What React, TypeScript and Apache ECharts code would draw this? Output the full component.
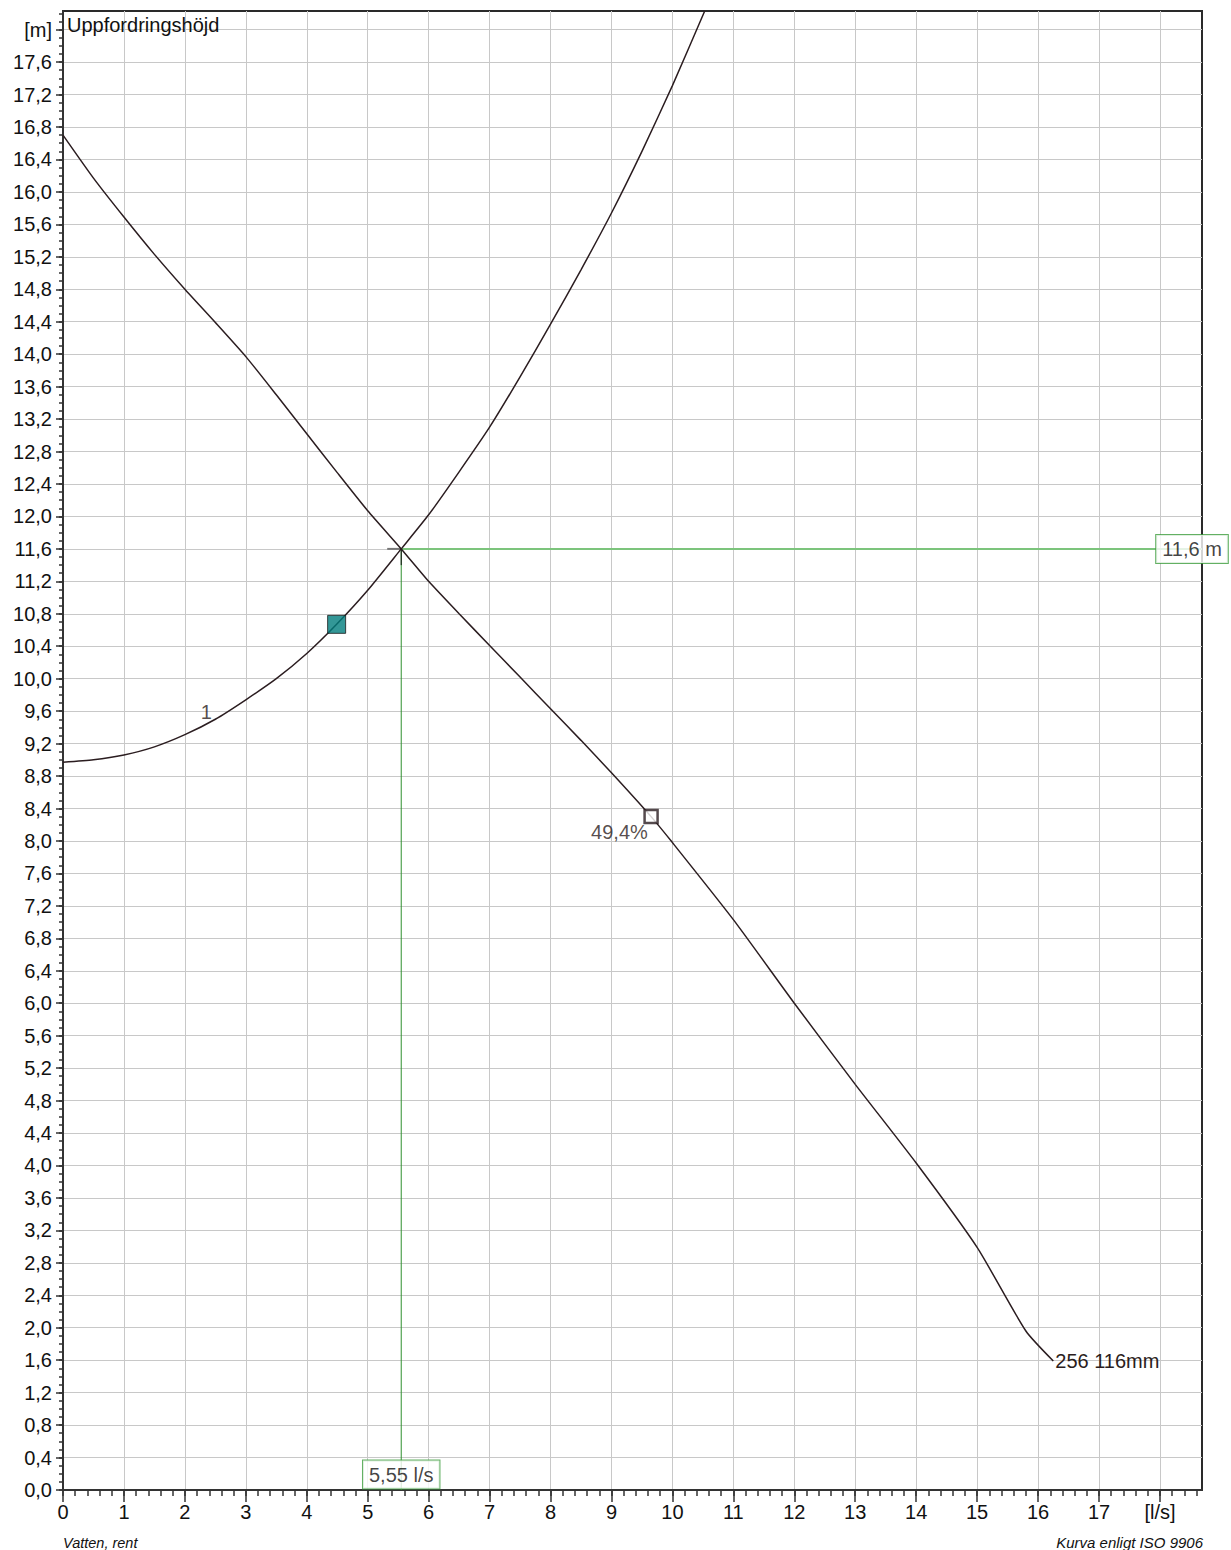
import React, { useEffect, useRef } from 'react';
import * as echarts from 'echarts';

// Pump curve "256 116mm" (flow l/s, head m)
const pumpQ = [0, 0.5, 1, 1.5, 2, 2.5, 3, 3.5, 4, 4.5, 5, 5.55, 6, 6.5, 7, 7.5, 8, 8.5, 9, 9.65, 10, 11, 12, 13, 14, 15, 15.8, 16.25];
const pumpH = [16.7, 16.17, 15.69, 15.23, 14.8, 14.39, 13.97, 13.5, 13.02, 12.54, 12.07, 11.6, 11.2, 10.8, 10.41, 10.02, 9.63, 9.24, 8.84, 8.3, 7.98, 7.03, 6.0, 5.0, 4.03, 2.99, 1.96, 1.59];
const pumpLabel = '256 116mm';

// System curve "1"
const sysQ = [0, 0.5, 1, 1.5, 2, 2.5, 3, 3.5, 4, 4.49, 5, 5.55, 6, 6.5, 7, 7.5, 8, 8.5, 9, 9.5, 10, 10.53];
const sysH = [8.97, 9.0, 9.06, 9.16, 9.31, 9.5, 9.74, 10.0, 10.31, 10.67, 11.09, 11.6, 12.02, 12.55, 13.1, 13.72, 14.37, 15.04, 15.74, 16.5, 17.31, 18.23];
const sysLabel = '1';
const sysLabelPoint = [2.35, 9.45];
const sysMarker = [4.49, 10.67];

// Operating point
const opQ = 5.55;
const opH = 11.6;
const opQLabel = '5,55 l/s';
const opHLabel = '11,6 m';

// Efficiency point
const effPoint = [9.65, 8.3];
const effLabel = '49,4%';

// Axes
const xMin = 0;
const xMax = 18.69;
const yMin = 0;
const yMax = 18.23;
const xMajorTicks = Array.from({ length: 19 }, (_, i) => i);
const xMinorTicks = Array.from({ length: 94 }, (_, i) => +(i * 0.2).toFixed(1));
const yMajorTicks = Array.from({ length: 46 }, (_, i) => +(i * 0.4).toFixed(1));
const yMinorTicks = Array.from({ length: 183 }, (_, i) => +(i * 0.1).toFixed(1));
const xUnitLabel = '[l/s]';
const yUnitLabel = '[m]';
const yTitle = 'Uppfordringshöjd';
const footLeft = 'Vatten, rent';
const footRight = 'Kurva enligt ISO 9906';

const FONT = '"Liberation Sans", Arial, sans-serif';
const CURVE = '#2b1d20';
const GRIDC = '#c8c8c8';
const FS = 20;

export default function App() {
  const ref = useRef<HTMLDivElement>(null);
  useEffect(() => {
    if (!ref.current) return;
    const chart = echarts.init(ref.current, null, { renderer: 'svg' });
    const pumpData = pumpQ.map((q, i) => [q, pumpH[i]]);
    const sysData = sysQ.map((q, i) => [q, sysH[i]]);
    const gridCfg = { left: 63, top: 11, right: 29, bottom: 60 };
    const opt: any = {
      animation: false,
      backgroundColor: '#fff',
      textStyle: { fontFamily: FONT },
      grid: { ...gridCfg, show: true, borderColor: '#2a2a2a', borderWidth: 2, backgroundColor: '#fff', z: 0 },
      xAxis: [
        {
          type: 'value', min: xMin, max: xMax, interval: 1, position: 'bottom',
          axisLine: { show: true, lineStyle: { color: '#333', width: 2 } },
          axisTick: { show: true, length: 12, lineStyle: { color: '#333', width: 1.5 }, customValues: xMajorTicks },
          axisLabel: {
            show: true, customValues: xMajorTicks, fontSize: FS, color: '#111', margin: 12, fontFamily: FONT,
            formatter: (v: number) => (Math.abs(v - 18) < 1e-6 ? xUnitLabel : String(Math.round(v))),
          },
          splitLine: { show: true, lineStyle: { color: GRIDC, width: 1 } },
          minorTick: { show: false },
        },
        {
          type: 'value', min: xMin, max: xMax, position: 'bottom', gridIndex: 0,
          axisLine: { show: false },
          axisTick: { show: true, length: 6, lineStyle: { color: '#333', width: 1.5 }, customValues: xMinorTicks },
          axisLabel: { show: false },
          splitLine: { show: false },
        },
      ],
      yAxis: [
        {
          type: 'value', min: yMin, max: yMax, interval: 0.4, position: 'left',
          axisLine: { show: true, lineStyle: { color: '#333', width: 2 } },
          axisTick: { show: true, length: 7, lineStyle: { color: '#333', width: 1.5 }, customValues: yMajorTicks },
          axisLabel: {
            show: true, customValues: yMajorTicks, fontSize: FS, color: '#111', margin: 11, fontFamily: FONT,
            formatter: (v: number) => (Math.abs(v - 18) < 1e-6 ? yUnitLabel : (Math.round(v * 10) / 10).toFixed(1).replace('.', ',')),
          },
          splitLine: { show: true, lineStyle: { color: GRIDC, width: 1 } },
        },
        {
          type: 'value', min: yMin, max: yMax, position: 'left', gridIndex: 0,
          axisLine: { show: false },
          axisTick: { show: true, length: 4, lineStyle: { color: '#333', width: 1.5 }, customValues: yMinorTicks },
          axisLabel: { show: false },
          splitLine: { show: false },
        },
      ],
      series: [
        {
          type: 'line', name: 'opH', data: [[opQ, opH], [xMax, opH]], showSymbol: false, symbol: 'none',
          lineStyle: { color: '#7cc47c', width: 2 }, z: 2, silent: true,
        },
        {
          type: 'line', name: 'opQ', data: [[opQ, 0], [opQ, opH]], showSymbol: false, symbol: 'none',
          lineStyle: { color: '#2f8f2f', width: 1 }, z: 2, silent: true,
        },
        {
          type: 'line', name: 'opTickV', data: [[opQ, opH], [opQ, opH - 0.2]], showSymbol: false, symbol: 'none',
          lineStyle: { color: '#111', width: 1 }, z: 3, silent: true,
        },
        {
          type: 'line', name: 'opTickH', data: [[opQ - 0.23, opH], [opQ, opH]], showSymbol: false, symbol: 'none',
          lineStyle: { color: '#777', width: 2 }, z: 3, silent: true,
        },
        {
          type: 'line', name: 'pump', data: pumpData, showSymbol: false, symbol: 'none', smooth: 0.2,
          lineStyle: { color: CURVE, width: 1.5 }, z: 4, silent: true,
          endLabel: {
            show: true, formatter: pumpLabel, fontSize: FS, color: CURVE, distance: 2, fontFamily: FONT,
          },
        },
        {
          type: 'line', name: 'system', data: sysData, showSymbol: false, symbol: 'none', smooth: 0.2,
          lineStyle: { color: CURVE, width: 1.5 }, z: 4, silent: true,
        },
        {
          type: 'scatter', data: [sysMarker], symbol: 'rect', symbolSize: 18, z: 6, silent: true,
          itemStyle: { color: '#007d7d', borderColor: '#1a1a1a', borderWidth: 1 },
        },
        {
          type: 'scatter', data: [effPoint], symbol: 'rect', symbolSize: 13, z: 6, silent: true,
          itemStyle: { color: '#fff', borderColor: CURVE, borderWidth: 2.5 },
          label: {
            show: true, formatter: effLabel, position: 'insideBottomRight', offset: [-6, 23],
            fontSize: FS, color: CURVE, fontFamily: FONT,
          },
        },
        {
          type: 'scatter', data: [sysLabelPoint], symbolSize: 1, z: 6, silent: true,
          itemStyle: { color: 'rgba(0,0,0,0)' },
          label: { show: true, formatter: sysLabel, position: 'top', distance: 1, fontSize: FS, color: CURVE, fontFamily: FONT },
        },
        {
          type: 'scatter', data: [[opQ, 0]], symbolSize: 1, z: 7, silent: true, clip: false,
          itemStyle: { color: 'rgba(0,0,0,0)' },
          label: {
            show: true, formatter: opQLabel, position: 'top', distance: 1, fontSize: FS, color: '#111', fontFamily: FONT,
            backgroundColor: '#fff', borderColor: '#3c9c3c', borderWidth: 1, padding: [4, 6, 3, 6], lineHeight: 21,
          },
        },
        {
          type: 'scatter', data: [[xMax, opH]], symbolSize: 1, z: 7, silent: true, clip: false,
          itemStyle: { color: 'rgba(0,0,0,0)' },
          label: {
            show: true, formatter: opHLabel, position: 'inside', offset: [-10, 0], fontSize: FS, color: '#111', fontFamily: FONT,
            backgroundColor: '#fff', borderColor: '#3c9c3c', borderWidth: 1, padding: [4, 6, 3, 6], lineHeight: 21,
          },
        },
      ],
      graphic: [
        { type: 'text', left: 67, top: 15, z: 10, style: { text: yTitle, fontSize: FS, fill: '#111', fontFamily: FONT } },
        { type: 'text', left: 63, top: 1535, z: 10, style: { text: footLeft, fontSize: 14.5, fontStyle: 'italic', fill: '#111', fontFamily: FONT } },
        { type: 'text', right: 28, top: 1535, z: 10, style: { text: footRight, fontSize: 15, fontStyle: 'italic', fill: '#111', fontFamily: FONT } },
      ],
    };
    chart.setOption(opt);
    return () => chart.dispose();
  }, []);
  return (
    <div
      ref={ref}
      style={{ position: 'absolute', left: 0, top: 0, width: 1231, height: 1550, background: '#fff' }}
    />
  );
}
